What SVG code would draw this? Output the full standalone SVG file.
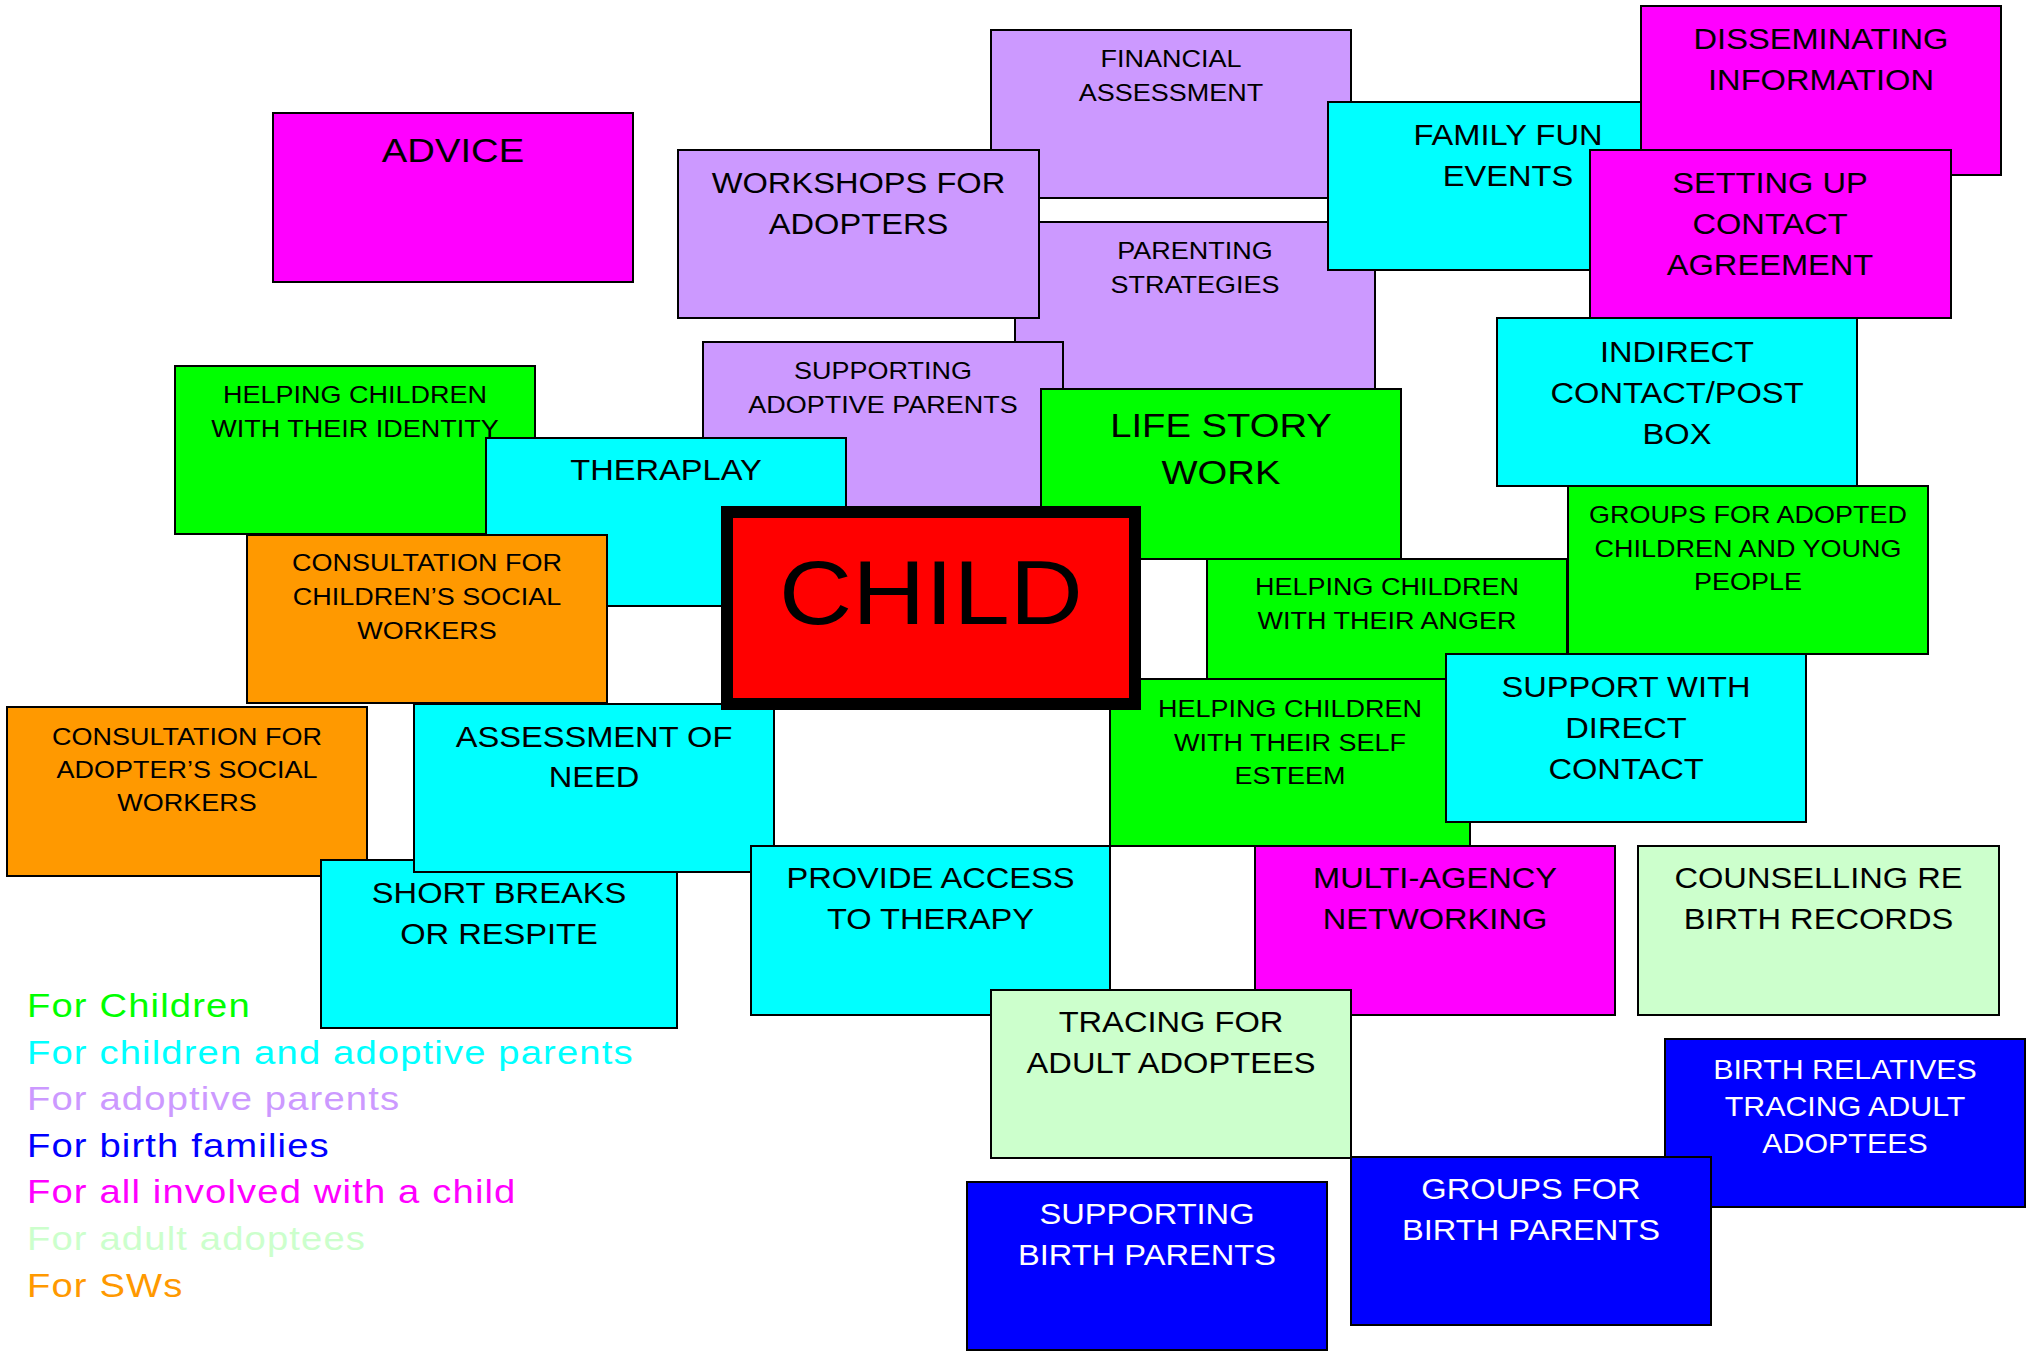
<svg xmlns="http://www.w3.org/2000/svg" width="2026" height="1351" viewBox="0 0 2026 1351">
<style>
rect{stroke:#000;stroke-width:2}
.mg{fill:#FF00FF}.pu{fill:#CC99FF}.cy{fill:#00FFFF}.gr{fill:#00FF00}.or{fill:#FF9900}.bl{fill:#0000FF}.lg{fill:#CCFFCC}.rd{fill:#FF0000}
text{font-family:"Liberation Sans",Arial,sans-serif;text-anchor:middle;fill:#000}
.s{font-size:24px}.m{font-size:29px}.l{font-size:34px}.b{font-size:27px;fill:#fff}.w{fill:#fff}
.c{font-size:90px}
.lgd{font-size:34px;text-anchor:start;letter-spacing:1px}
</style>
<rect x="0" y="0" width="2026" height="1351" style="fill:#fff;stroke:none"/>
<g id="financial-assessment"><rect class="pu" x="991" y="30" width="360" height="168"/><text class="s" transform="translate(1171 0) scale(1.125 1)"><tspan x="0" y="67">FINANCIAL</tspan><tspan x="0" y="101">ASSESSMENT</tspan></text></g>
<g id="parenting-strategies"><rect class="pu" x="1015" y="222" width="360" height="168"/><text class="s" transform="translate(1195 0) scale(1.125 1)"><tspan x="0" y="259">PARENTING</tspan><tspan x="0" y="293">STRATEGIES</tspan></text></g>
<g id="workshops"><rect class="pu" x="678" y="150" width="361" height="168"/><text class="m" transform="translate(858.5 0) scale(1.125 1)"><tspan x="0" y="193">WORKSHOPS FOR</tspan><tspan x="0" y="234">ADOPTERS</tspan></text></g>
<g id="family-fun"><rect class="cy" x="1328" y="102" width="360" height="168"/><text class="m" transform="translate(1508 0) scale(1.125 1)"><tspan x="0" y="145">FAMILY FUN</tspan><tspan x="0" y="186">EVENTS</tspan></text></g>
<g id="disseminating"><rect class="mg" x="1641" y="6" width="360" height="169"/><text class="m" transform="translate(1821 0) scale(1.125 1)"><tspan x="0" y="49">DISSEMINATING</tspan><tspan x="0" y="90">INFORMATION</tspan></text></g>
<g id="setting-up"><rect class="mg" x="1590" y="150" width="361" height="168"/><text class="m" transform="translate(1770 0) scale(1.125 1)"><tspan x="0" y="193">SETTING UP</tspan><tspan x="0" y="234">CONTACT</tspan><tspan x="0" y="275">AGREEMENT</tspan></text></g>
<g id="indirect-contact"><rect class="cy" x="1497" y="318" width="360" height="168"/><text class="m" transform="translate(1677 0) scale(1.125 1)"><tspan x="0" y="362">INDIRECT</tspan><tspan x="0" y="403">CONTACT/POST</tspan><tspan x="0" y="444">BOX</tspan></text></g>
<g id="advice"><rect class="mg" x="273" y="113" width="360" height="169"/><text class="l" transform="translate(453 0) scale(1.125 1)"><tspan x="0" y="162">ADVICE</tspan></text></g>
<g id="supporting-adoptive"><rect class="pu" x="703" y="342" width="360" height="168"/><text class="s" transform="translate(883 0) scale(1.125 1)"><tspan x="0" y="379">SUPPORTING</tspan><tspan x="0" y="413">ADOPTIVE PARENTS</tspan></text></g>
<g id="helping-identity"><rect class="gr" x="175" y="366" width="360" height="168"/><text class="s" transform="translate(355 0) scale(1.125 1)"><tspan x="0" y="403">HELPING CHILDREN</tspan><tspan x="0" y="437">WITH THEIR IDENTITY</tspan></text></g>
<g id="theraplay"><rect class="cy" x="486" y="438" width="360" height="168"/><text class="m" transform="translate(666 0) scale(1.125 1)"><tspan x="0" y="480">THERAPLAY</tspan></text></g>
<g id="life-story"><rect class="gr" x="1041" y="389" width="360" height="170"/><text class="l" transform="translate(1221 0) scale(1.125 1)"><tspan x="0" y="437">LIFE STORY</tspan><tspan x="0" y="484">WORK</tspan></text></g>
<g id="groups-adopted"><rect class="gr" x="1568" y="486" width="360" height="168"/><text class="s" transform="translate(1748 0) scale(1.125 1)"><tspan x="0" y="523">GROUPS FOR ADOPTED</tspan><tspan x="0" y="557">CHILDREN AND YOUNG</tspan><tspan x="0" y="590">PEOPLE</tspan></text></g>
<g id="helping-anger"><rect class="gr" x="1207" y="559" width="360" height="168"/><text class="s" transform="translate(1387 0) scale(1.125 1)"><tspan x="0" y="595">HELPING CHILDREN</tspan><tspan x="0" y="629">WITH THEIR ANGER</tspan></text></g>
<g id="consultation-children"><rect class="or" x="247" y="535" width="360" height="168"/><text class="s" transform="translate(427 0) scale(1.125 1)"><tspan x="0" y="571">CONSULTATION FOR</tspan><tspan x="0" y="605">CHILDREN’S SOCIAL</tspan><tspan x="0" y="639">WORKERS</tspan></text></g>
<g id="helping-self-esteem"><rect class="gr" x="1110" y="679" width="360" height="167"/><text class="s" transform="translate(1290 0) scale(1.125 1)"><tspan x="0" y="717">HELPING CHILDREN</tspan><tspan x="0" y="751">WITH THEIR SELF</tspan><tspan x="0" y="784">ESTEEM</tspan></text></g>
<g id="support-direct"><rect class="cy" x="1446" y="654" width="360" height="168"/><text class="m" transform="translate(1626 0) scale(1.125 1)"><tspan x="0" y="697">SUPPORT WITH</tspan><tspan x="0" y="738">DIRECT</tspan><tspan x="0" y="779">CONTACT</tspan></text></g>
<g id="consultation-adopters"><rect class="or" x="7" y="707" width="360" height="169"/><text class="s" transform="translate(187 0) scale(1.125 1)"><tspan x="0" y="745">CONSULTATION FOR</tspan><tspan x="0" y="778">ADOPTER’S SOCIAL</tspan><tspan x="0" y="811">WORKERS</tspan></text></g>
<g id="short-breaks"><rect class="cy" x="321" y="860" width="356" height="168"/><text class="m" transform="translate(499 0) scale(1.125 1)"><tspan x="0" y="903">SHORT BREAKS</tspan><tspan x="0" y="944">OR RESPITE</tspan></text></g>
<g id="assessment-need"><rect class="cy" x="414" y="704" width="360" height="168"/><text class="m" transform="translate(594 0) scale(1.125 1)"><tspan x="0" y="747">ASSESSMENT OF</tspan><tspan x="0" y="787">NEED</tspan></text></g>
<g id="provide-access"><rect class="cy" x="751" y="846" width="359" height="169"/><text class="m" transform="translate(930.5 0) scale(1.125 1)"><tspan x="0" y="888">PROVIDE ACCESS</tspan><tspan x="0" y="929">TO THERAPY</tspan></text></g>
<g id="child"><rect class="rd" x="727" y="512" width="408" height="192" style="stroke-width:12"/><text class="c" transform="translate(931 0) scale(1.125 1)"><tspan x="0" y="624">CHILD</tspan></text></g>
<g id="multi-agency"><rect class="mg" x="1255" y="846" width="360" height="169"/><text class="m" transform="translate(1435 0) scale(1.125 1)"><tspan x="0" y="888">MULTI-AGENCY</tspan><tspan x="0" y="929">NETWORKING</tspan></text></g>
<g id="counselling"><rect class="lg" x="1638" y="846" width="361" height="169"/><text class="m" transform="translate(1818.5 0) scale(1.125 1)"><tspan x="0" y="888">COUNSELLING RE</tspan><tspan x="0" y="929">BIRTH RECORDS</tspan></text></g>
<g id="tracing-adult"><rect class="lg" x="991" y="990" width="360" height="168"/><text class="m" transform="translate(1171 0) scale(1.125 1)"><tspan x="0" y="1032">TRACING FOR</tspan><tspan x="0" y="1073">ADULT ADOPTEES</tspan></text></g>
<g id="birth-relatives"><rect class="bl" x="1665" y="1039" width="360" height="168"/><text class="b" transform="translate(1845 0) scale(1.125 1)"><tspan x="0" y="1079">BIRTH RELATIVES</tspan><tspan x="0" y="1116">TRACING ADULT</tspan><tspan x="0" y="1153">ADOPTEES</tspan></text></g>
<g id="groups-birth-parents"><rect class="bl" x="1351" y="1157" width="360" height="168"/><text class="m w" transform="translate(1531 0) scale(1.125 1)"><tspan x="0" y="1199">GROUPS FOR</tspan><tspan x="0" y="1240">BIRTH PARENTS</tspan></text></g>
<g id="supporting-birth-parents"><rect class="bl" x="967" y="1182" width="360" height="168"/><text class="m w" transform="translate(1147 0) scale(1.125 1)"><tspan x="0" y="1224">SUPPORTING</tspan><tspan x="0" y="1265">BIRTH PARENTS</tspan></text></g>
<g id="legend" transform="translate(27 0) scale(1.125 1)">
<text class="lgd" x="0" y="1017" style="fill:#00FF00">For Children</text>
<text class="lgd" x="0" y="1064" style="fill:#00FFFF">For children and adoptive parents</text>
<text class="lgd" x="0" y="1110" style="fill:#CC99FF">For adoptive parents</text>
<text class="lgd" x="0" y="1157" style="fill:#0000FF">For birth families</text>
<text class="lgd" x="0" y="1203" style="fill:#FF00FF">For all involved with a child</text>
<text class="lgd" x="0" y="1250" style="fill:#CCFFCC">For adult adoptees</text>
<text class="lgd" x="0" y="1297" style="fill:#FF9900">For SWs</text>
</g>
<g id="connectors"></g>
</svg>
